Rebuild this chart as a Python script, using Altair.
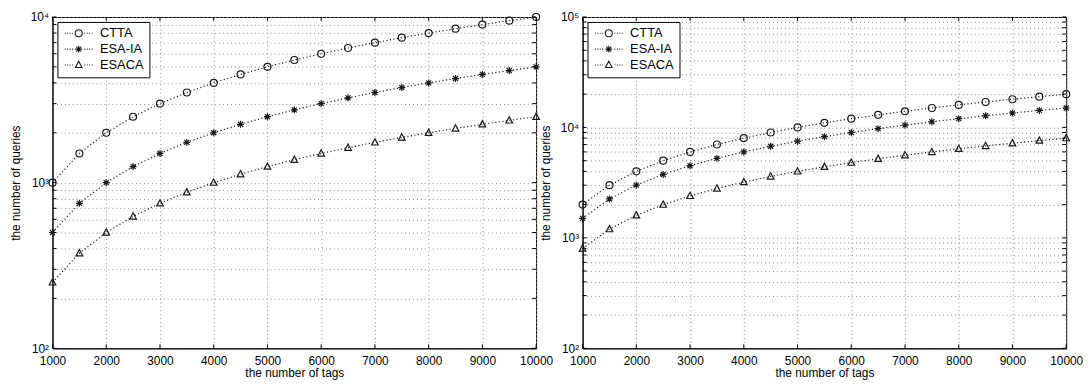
import altair as alt
import pandas as pd

# ---------------- data ----------------
tags = [1000, 1500, 2000, 2500, 3000, 3500, 4000, 4500, 5000, 5500,
        6000, 6500, 7000, 7500, 8000, 8500, 9000, 9500, 10000]

series_names = ["CTTA", "ESA-IA", "ESACA"]

left_ctta = [1000, 1500, 2000, 2500, 3000, 3500, 4000, 4500, 5000, 5500,
             6000, 6500, 7000, 7500, 8000, 8500, 9000, 9500, 10000]
left_esaia = [500, 750, 1000, 1250, 1500, 1750, 2000, 2250, 2500, 2750,
              3000, 3250, 3500, 3750, 4000, 4250, 4500, 4750, 5000]
left_esaca = [250, 375, 500, 625, 750, 875, 1000, 1125, 1250, 1375,
              1500, 1625, 1750, 1875, 2000, 2125, 2250, 2375, 2500]

right_ctta = [2000, 3000, 4000, 5000, 6000, 7000, 8000, 9000, 10000, 11000,
              12000, 13000, 14000, 15000, 16000, 17000, 18000, 19000, 20000]
right_esaia = [1500, 2250, 3000, 3750, 4500, 5250, 6000, 6750, 7500, 8250,
               9000, 9750, 10500, 11250, 12000, 12750, 13500, 14250, 15000]
right_esaca = [800, 1200, 1600, 2000, 2400, 2800, 3200, 3600, 4000, 4400,
               4800, 5200, 5600, 6000, 6400, 6800, 7200, 7600, 8000]

x_ticks = [1000, 2000, 3000, 4000, 5000, 6000, 7000, 8000, 9000, 10000]
y_grid_left = [100, 200, 300, 400, 500, 600, 700, 800, 900,
               1000, 2000, 3000, 4000, 5000, 6000, 7000, 8000, 9000, 10000]
y_grid_right = y_grid_left + [20000, 30000, 40000, 50000, 60000, 70000,
                              80000, 90000, 100000]

x_title = "the number of tags"
y_title = "the number of queries"

# ---------------- styling helpers ----------------
INK = "#1a1a1a"
FONT = "Liberation Sans"
W, H = 489, 335
TICK = 4

marker_paths = [
    "M1,0A1,1,0,1,1,-1,0A1,1,0,1,1,1,0Z",
    "M-1,0L1,0M0,-1L0,1M-0.72,-0.72L0.72,0.72M-0.72,0.72L0.72,-0.72",
    "M0,-1.05L0.95,0.75L-0.95,0.75Z",
]


def dotted_segment():
    parts = []
    k = -4.0
    while k <= 4.01:
        if abs(k) > 1.45:
            parts.append("M%.2f,0h0.28" % k)
        k += 0.7
    return "".join(parts)


legend_paths = [dotted_segment() + p for p in marker_paths]

y_label_expr = ("datum.value == 100 ? '10\u00b2' : datum.value == 1000 ? '10\u00b3' : "
                "datum.value == 10000 ? '10\u2074' : datum.value == 100000 ? '10\u2075' : ''")


def make_df(vals):
    rows = []
    for name, v in zip(series_names, vals):
        for x, y in zip(tags, v):
            rows.append({"tags": x, "queries": y, "series": name, "leg": name})
    return pd.DataFrame(rows)


def panel(vals, ymax, ygrid):
    df = make_df(vals)
    base = alt.Chart(df)
    xs = alt.Scale(domain=[1000, 10000], nice=False, zero=False)
    ys = alt.Scale(type="log", domain=[100, ymax], nice=False)
    x = alt.X("tags:Q", scale=xs,
              axis=alt.Axis(values=x_ticks, format="d", title=x_title,
                            labelFlush=False, labelPadding=7, titlePadding=2))
    y = alt.Y("queries:Q", scale=ys,
              axis=alt.Axis(values=ygrid, labelExpr=y_label_expr, title=y_title,
                            labelFlush=False, labelPadding=4, titlePadding=8))
    line = base.mark_line(color=INK, strokeWidth=1.2, strokeDash=[1.2, 2.4]).encode(
        x=x, y=y, detail="series:N")
    pts = []
    for name, path in zip(series_names, marker_paths):
        pts.append(
            base.transform_filter(alt.datum.series == name)
            .mark_point(shape=path, filled=False, color=INK, size=50,
                        strokeWidth=1.2, opacity=1)
            .encode(x=x, y=y)
        )
    leg = base.mark_point(opacity=0, filled=False, color=INK, strokeWidth=1.1).encode(
        x=x, y=y,
        shape=alt.Shape("leg:N",
                        scale=alt.Scale(domain=series_names, range=legend_paths),
                        legend=alt.Legend(title=None, orient="top-left", offset=5,
                                          padding=5, strokeColor="black",
                                          fillColor="white", symbolOffset=10,
                                          labelOffset=15, rowPadding=2,
                                          symbolSize=50, symbolStrokeWidth=1.1,
                                          symbolStrokeColor=INK,
                                          labelFont=FONT, labelFontSize=13,
                                          labelColor="black")))

    # inward tick marks on all four sides (MATLAB box style)
    xt = alt.Chart(pd.DataFrame({"tags": x_ticks}))
    yt = alt.Chart(pd.DataFrame({"queries": ygrid}))
    tick_bottom = xt.mark_rule(color="black", strokeWidth=1).encode(
        x=alt.X("tags:Q", scale=xs), y=alt.value(H), y2=alt.value(H - TICK))
    tick_top = xt.mark_rule(color="black", strokeWidth=1).encode(
        x=alt.X("tags:Q", scale=xs), y=alt.value(0), y2=alt.value(TICK))
    tick_left = yt.mark_rule(color="black", strokeWidth=1).encode(
        y=alt.Y("queries:Q", scale=ys), x=alt.value(0), x2=alt.value(TICK))
    tick_right = yt.mark_rule(color="black", strokeWidth=1).encode(
        y=alt.Y("queries:Q", scale=ys), x=alt.value(W), x2=alt.value(W - TICK))

    return alt.layer(line, *pts, leg, tick_bottom, tick_top, tick_left,
                     tick_right).properties(width=W, height=H)


left = panel([left_ctta, left_esaia, left_esaca], 10000, y_grid_left)
right = panel([right_ctta, right_esaia, right_esaca], 100000, y_grid_right)

chart = (
    alt.hconcat(left, right, spacing=47, bounds="flush")
    .resolve_scale(shape="independent", x="independent", y="independent")
    .resolve_legend(shape="independent")
    .configure_view(stroke="black", strokeWidth=1)
    .configure_axis(labelFont=FONT, labelFontSize=12, labelColor="black",
                    titleFont=FONT, titleFontSize=12, titleFontWeight="normal",
                    titleColor="black", grid=True, gridColor="#8c8c8c",
                    gridDash=[1, 3], gridWidth=1, domainColor="black",
                    ticks=False)
    .properties(background="white", padding=0)
)

chart.save("out.html", embed_options={"renderer": "svg", "actions": False})
